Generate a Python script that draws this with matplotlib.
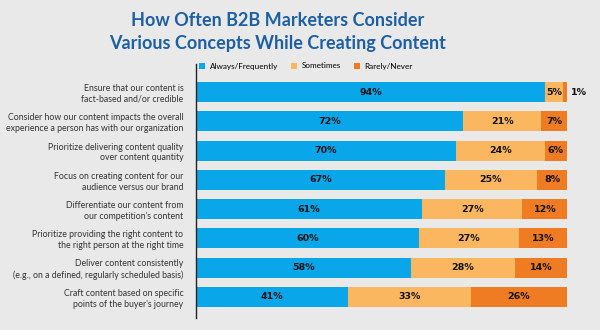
import matplotlib.pyplot as plt
import numpy as np

categories = [
    "Ensure that our content is\nfact-based and/or credible",
    "Consider how our content impacts the overall\nexperience a person has with our organization",
    "Prioritize delivering content quality\nover content quantity",
    "Focus on creating content for our\naudience versus our brand",
    "Differentiate our content from\nour competition's content",
    "Prioritize providing the right content to\nthe right person at the right time",
    "Deliver content consistently\n(e.g., on a defined, regularly scheduled basis)",
    "Craft content based on specific\npoints of the buyer's journey",
]
always = [94, 72, 70, 67, 61, 60, 58, 41]
sometimes = [5, 21, 24, 25, 27, 27, 28, 33]
rarely = [1, 7, 6, 8, 12, 13, 14, 26]
series_names = ["Always/Frequently", "Sometimes", "Rarely/Never"]
colors = ["#0aa6ea", "#fbb760", "#ef7b22"]
bg = "#e9e9e9"

W, H = 600, 330
fig = plt.figure(figsize=(W / 100, H / 100), dpi=100, facecolor=bg)
plt.rcParams['font.family'] = ['Lato', 'DejaVu Sans']

# axes placed in pixel units
x0, x1, y0, y1 = 196, 567, 64, 318
ax = fig.add_axes([x0 / W, 1 - y1 / H, (x1 - x0) / W, (y1 - y0) / H])
ax.set_facecolor(bg)

y = np.arange(len(categories))
left = np.zeros(len(categories))
handles = []
for vals, name, c in zip([always, sometimes, rarely], series_names, colors):
    vals = np.array(vals)
    b = ax.barh(y, vals, left=left, height=0.68, color=c, label=name)
    handles.append(b)
    for yi, l, v in zip(y, left, vals):
        if v >= 5:
            ax.text(l + v / 2, yi, f"{v}%", ha='center', va='center',
                    fontsize=6.8, fontweight='bold', color='#111111', family='DejaVu Sans')
        else:
            ax.text(l + v + 1.0, yi, f"{v}%", ha='left', va='center',
                    fontsize=6.8, fontweight='bold', color='#111111', family='DejaVu Sans')
    left = left + vals

ax.set_xlim(0, 100)
ax.set_ylim(7.72, -0.96)
ax.set_xticks([])
ax.set_yticks(y)
ax.set_yticklabels(categories, fontsize=6.3, color='#333333', linespacing=1.25)
ax.tick_params(axis='y', length=0, pad=9)
for s in ['top', 'right', 'bottom']:
    ax.spines[s].set_visible(False)
ax.spines['left'].set_color('#222222')
ax.spines['left'].set_linewidth(1)

tx = 278 / W
fig.text(tx, 1 - 20 / H, "How Often B2B Marketers Consider", ha='center', va='center',
         fontsize=13, fontweight='bold', color='#1d5fa3')
fig.text(tx, 1 - 43 / H, "Various Concepts While Creating Content", ha='center', va='center',
         fontsize=13, fontweight='bold', color='#1d5fa3')

fig.legend(handles=handles, labels=series_names, loc='center',
           bbox_to_anchor=(306 / W, 1 - 66 / H), ncol=3, frameon=False,
           fontsize=5.9, handlelength=0.75, handleheight=0.75,
           columnspacing=1.5, handletextpad=0.6, borderaxespad=0)

fig.savefig("out.png", dpi=100, facecolor=bg)
